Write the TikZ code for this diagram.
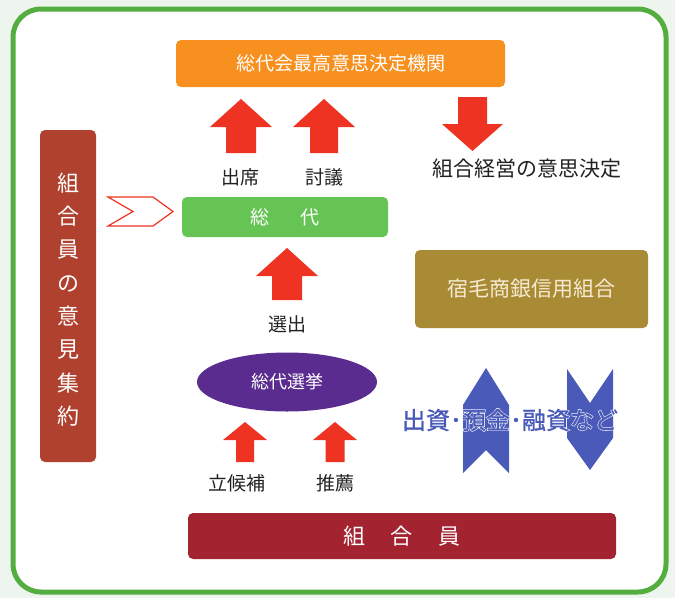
\documentclass[tikz,border=0pt]{standalone}
\usepackage{fontspec}
\setmainfont{Noto Sans CJK JP}
\newfontfamily\fundoutline{Noto Sans CJK JP}[AutoFakeBold=6]
\newfontfamily\fundfill{Noto Sans CJK JP}[AutoFakeBold=1.2]
\usetikzlibrary{shapes.geometric}
\definecolor{bgout}{HTML}{EEF4EE}
\definecolor{framegreen}{HTML}{53AE3F}
\definecolor{boxorange}{HTML}{F7901E}
\definecolor{boxgreen}{HTML}{66C455}
\definecolor{boxbrick}{HTML}{B0412E}
\definecolor{boxpurple}{HTML}{5B2C8F}
\definecolor{boxgold}{HTML}{A98B36}
\definecolor{boxdred}{HTML}{A32430}
\definecolor{arrowblue}{HTML}{4A5AB8}
\definecolor{arrowred}{HTML}{EE3322}
\definecolor{labelgray}{HTML}{222222}
\definecolor{cream}{HTML}{F6EBD2}
\newcommand{\upArrow}[6]{%
  \fill[arrowred] (#1,#2) -- ({#1+#5},#3) -- ({#1+#6},#3) -- ({#1+#6},#4) -- ({#1-#6},#4) -- ({#1-#6},#3) -- ({#1-#5},#3) -- cycle;}
\begin{document}
\begin{tikzpicture}[x=1pt,y=-1pt,
  box/.style={rounded corners=5pt, inner sep=0pt, text=white},
  lbl/.style={text=labelgray, font=\fontsize{19}{19}\selectfont, inner sep=0pt}]
\fill[bgout] (0,0) rectangle (675,598);
\useasboundingbox (0,0) rectangle (675,598);
\draw[framegreen, line width=5pt, fill=white, rounded corners=28pt] (13,9) rectangle (666,592);

% top box
\node[box, fill=boxorange, minimum width=329pt, minimum height=47pt,
      font=\fontsize{19}{19}\selectfont] (top) at (340.5,63.5) {総代会最高意思決定機関};

% up arrows to top
\upArrow{241}{99}{127}{153}{31}{15}
\upArrow{324}{99}{127}{153}{31}{14}
% down arrow
\fill[arrowred] (458,97) -- (487,97) -- (487,124) -- (503,124) -- (472.5,151) -- (442,124) -- (458,124) -- cycle;

\node[lbl] (attend) at (240,177) {出席};
\node[lbl] (discuss) at (324,177) {討議};
\node[lbl, font=\fontsize{21}{21}\selectfont] (decide) at (527,169) {組合経営の意思決定};

% sodai box
\node[box, fill=boxgreen, minimum width=206pt, minimum height=40pt,
      font=\fontsize{19}{19}\selectfont] (sodai) at (285,217) {総\hspace{32pt}代};

% chevron
\draw[arrowred, line width=1.2pt, fill=white, line join=miter]
  (108,197) -- (153,197) -- (173,211.5) -- (153,226) -- (108,226) -- (133,211.5) -- cycle;

% left box
\node[box, fill=boxbrick, minimum width=56pt, minimum height=332pt] (opinion) at (68,296) {};
\node[text=white, align=center, font=\fontsize{22}{33.3}\selectfont, inner sep=0pt] (opiniontext) at (68,299.5)
  {組\\合\\員\\の\\意\\見\\集\\約};

% select arrow
\upArrow{287}{248}{276}{300}{31}{15}
\node[lbl] (select) at (287,324) {選出};

% gold box
\node[box, fill=boxgold, text=cream, minimum width=233pt, minimum height=78pt,
      font=\fontsize{21}{21}\selectfont] (bank) at (531.5,289) {宿毛商銀信用組合};

% election ellipse
\node[ellipse, fill=boxpurple, text=white, minimum width=180pt, minimum height=59pt, inner sep=0pt,
      font=\fontsize{18}{18}\selectfont] (election) at (287,382) {総代選挙};

% small arrows
\upArrow{245}{422}{440}{462}{22}{9}
\upArrow{335}{422}{440}{462}{22}{9.5}
\node[lbl] (cand) at (237,483) {立候補};
\node[lbl] (recom) at (335,483) {推薦};

% blue arrows
\fill[arrowblue] (486,368) -- (509,405) -- (509,473) -- (486,450) -- (463,473) -- (463,405) -- cycle;
\fill[arrowblue] (567,369) -- (590,403) -- (613,369) -- (613,438) -- (590,470) -- (567,438) -- cycle;
\node[text=white, font=\fontsize{24}{24}\selectfont\fundoutline\bfseries, inner sep=0pt] (fundbg) at (510,420)
  {出資･預金･融資など};
\node[text=arrowblue, font=\fontsize{24}{24}\selectfont\fundfill\bfseries, inner sep=0pt] (fund) at (fundbg.center)
  {出資･預金･融資など};

% members box
\node[box, fill=boxdred, minimum width=428pt, minimum height=46pt,
      font=\fontsize{22}{22}\selectfont] (members) at (402,536) {組\hspace{26pt}合\hspace{26pt}員};
\end{tikzpicture}
\end{document}
